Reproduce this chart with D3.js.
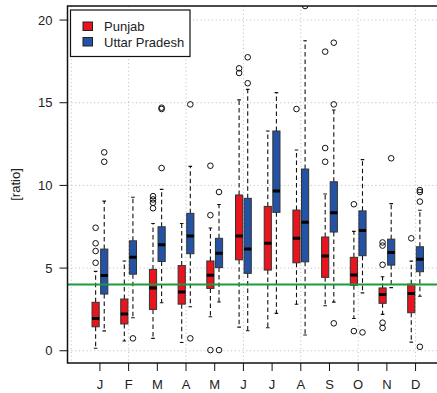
<!DOCTYPE html>
<html>
<head>
<meta charset="utf-8">
<script src="https://cdn.jsdelivr.net/npm/d3@7"></script>
<style>
  body { margin: 0; background: #fff; }
  text { font-family: "Liberation Sans", Arial, sans-serif; font-size: 13px; fill: #222; }
</style>
</head>
<body>
<script>
var width = 437,
    height = 393;

// month labels (tick labels on x)
var months = ["J", "F", "M", "A", "M", "J", "J", "A", "S", "O", "N", "D"];
var yTicks = [0, 5, 10, 15, 20];
var series = ["Punjab", "Uttar Pradesh"];
var threshold = 4;

// [lower whisker, q1, median, q3, upper whisker]
var punjab = [
  [0.15, 1.45, 1.95, 2.93, 4.8],
  [0.59, 1.62, 2.22, 3.13, 5.43],
  [0.75, 2.5, 3.8, 4.92, 7.7],
  [0.5, 2.82, 3.56, 5.15, 7.7],
  [2.06, 3.77, 4.56, 5.43, 7.42],
  [1.43, 5.5, 6.94, 9.42, 15.17],
  [1.39, 4.88, 6.5, 8.73, 13.29],
  [2.81, 5.32, 6.8, 8.51, 12.14],
  [2.72, 4.44, 5.73, 6.88, 9.48],
  [1.95, 3.96, 4.58, 5.65, 7.22],
  [2.2, 2.87, 3.4, 3.8, 4.48],
  [0.52, 2.3, 3.47, 4.03, 5.42]
];
var punjabOut = [
  [7.44, 6.5, 6.03, 5.32],
  [],
  [9.35, 9.15, 8.95, 8.62],
  [],
  [11.19, 8.2, 0.04],
  [17.08, 16.8],
  [],
  [14.62],
  [18.09, 12.26, 11.43],
  [8.86, 1.19],
  [6.55, 6.36, 5.2, 1.7, 1.38],
  [6.8]
];

var uttar = [
  [1.2, 3.43, 4.55, 6.15, 9.05],
  [2.0, 4.63, 5.66, 6.65, 9.28],
  [2.9, 5.4, 6.41, 7.5, 9.76],
  [2.66, 5.87, 6.94, 8.31, 11.15],
  [2.95, 5.03, 5.89, 6.8, 8.85],
  [1.21, 4.68, 6.15, 9.22, 15.81],
  [2.26, 8.37, 9.66, 13.29, 15.61],
  [0.95, 5.38, 7.77, 10.99, 18.75],
  [2.94, 7.18, 8.35, 10.22, 14.56],
  [3.5, 5.75, 7.28, 8.46, 11.56],
  [3.82, 5.18, 5.94, 6.75, 8.9],
  [3.3, 4.78, 5.53, 6.29, 8.5]
];
var uttarOut = [
  [12.0, 11.43],
  [0.75],
  [14.7, 14.62, 11.05],
  [14.9, 0.75],
  [9.6, 0.04],
  [17.75, 16.18],
  [],
  [20.85],
  [18.63, 14.9, 1.66],
  [1.11],
  [11.64],
  [9.72, 9.6, 9.02, 0.24]
];

var colors = ["#e8151f", "#2453a5"];
var offsets = [-0.15, 0.15];
var boxW = 0.25;

var pLeft = 67.5, pRight = 448, pTop = 6, pBottom = 363;

var x = d3.scaleLinear().domain([-0.13, 13.13]).range([pLeft, pRight]);
var y = d3.scaleLinear().domain([-0.74, 20.85]).range([pBottom, pTop]);

var svg = d3.select("body").append("svg")
    .attr("width", width)
    .attr("height", height);

svg.append("clipPath").attr("id", "plotclip")
  .append("rect")
    .attr("x", pLeft).attr("y", pTop)
    .attr("width", pRight - pLeft).attr("height", pBottom - pTop);

var plot = svg.append("g").attr("clip-path", "url(#plotclip)");

// grid
plot.selectAll("line.vgrid")
    .data([0, 2, 4, 6, 8, 10, 12])
  .enter().append("line")
    .attr("x1", function(d) { return x(d); })
    .attr("x2", function(d) { return x(d); })
    .attr("y1", pTop).attr("y2", pBottom)
    .style("stroke", "#c4c4c4")
    .style("stroke-dasharray", "1.2,2.6");

plot.selectAll("line.hgrid")
    .data(yTicks)
  .enter().append("line")
    .attr("x1", pLeft).attr("x2", pRight)
    .attr("y1", function(d) { return y(d); })
    .attr("y2", function(d) { return y(d); })
    .style("stroke", "#c4c4c4")
    .style("stroke-dasharray", "1.2,2.6");

function drawSeries(data, out, k) {
  var g = plot.append("g");
  var cx = function(i) { return x(i + 1 + offsets[k]); };
  var hw = (x(boxW) - x(0)) / 2;

  var b = g.selectAll("g.box")
      .data(data)
    .enter().append("g");

  // whiskers (dashed)
  b.append("line")
      .attr("x1", function(d, i) { return cx(i); })
      .attr("x2", function(d, i) { return cx(i); })
      .attr("y1", function(d) { return y(d[3]); })
      .attr("y2", function(d) { return y(d[4]); })
      .style("stroke", "#111").style("stroke-width", 1.1)
      .style("stroke-dasharray", "4.5,3");
  b.append("line")
      .attr("x1", function(d, i) { return cx(i); })
      .attr("x2", function(d, i) { return cx(i); })
      .attr("y1", function(d) { return y(d[1]); })
      .attr("y2", function(d) { return y(d[0]); })
      .style("stroke", "#111").style("stroke-width", 1.1)
      .style("stroke-dasharray", "4.5,3");

  // staples
  [0, 4].forEach(function(j) {
    b.append("line")
        .attr("x1", function(d, i) { return cx(i) - hw / 2; })
        .attr("x2", function(d, i) { return cx(i) + hw / 2; })
        .attr("y1", function(d) { return y(d[j]); })
        .attr("y2", function(d) { return y(d[j]); })
        .style("stroke", "#111").style("stroke-width", 1.1);
  });

  b.append("rect")
      .attr("x", function(d, i) { return cx(i) - hw; })
      .attr("width", hw * 2)
      .attr("y", function(d) { return y(d[3]); })
      .attr("height", function(d) { return y(d[1]) - y(d[3]); })
      .style("fill", colors[k])
      .style("stroke", "#333")
      .style("stroke-width", 1);

  b.append("line")
      .attr("x1", function(d, i) { return cx(i) - hw; })
      .attr("x2", function(d, i) { return cx(i) + hw; })
      .attr("y1", function(d) { return y(d[2]); })
      .attr("y2", function(d) { return y(d[2]); })
      .style("stroke", "#000").style("stroke-width", 3);

  // outliers
  out.forEach(function(pts, i) {
    g.selectAll(null)
        .data(pts)
      .enter().append("circle")
        .attr("cx", cx(i))
        .attr("cy", function(d) { return y(d); })
        .attr("r", 2.8)
        .style("fill", "none")
        .style("stroke", "#111")
        .style("stroke-width", 1);
  });
}

drawSeries(punjab, punjabOut, 0);
drawSeries(uttar, uttarOut, 1);

// reference line
plot.append("line")
    .attr("x1", pLeft).attr("x2", pRight)
    .attr("y1", y(threshold)).attr("y2", y(threshold))
    .style("stroke", "#1c9a3c")
    .style("stroke-width", 2);

// frame
svg.append("rect")
    .attr("x", pLeft).attr("y", pTop)
    .attr("width", pRight - pLeft).attr("height", pBottom - pTop)
    .style("fill", "none")
    .style("stroke", "#111")
    .style("stroke-width", 1.5);

// y axis
var yAxis = svg.append("g");
yAxis.selectAll("line")
    .data(yTicks)
  .enter().append("line")
    .attr("x1", pLeft - 8).attr("x2", pLeft)
    .attr("y1", function(d) { return y(d); })
    .attr("y2", function(d) { return y(d); })
    .style("stroke", "#111");
yAxis.selectAll("text")
    .data(yTicks)
  .enter().append("text")
    .attr("x", pLeft - 15)
    .attr("y", function(d) { return y(d); })
    .attr("dy", ".35em")
    .attr("text-anchor", "end")
    .text(function(d) { return d; });

svg.append("text")
    .attr("transform", "translate(20," + ((pTop + pBottom) / 2) + ") rotate(-90)")
    .attr("text-anchor", "middle")
    .text("[ratio]");

// x axis
var xAxis = svg.append("g");
xAxis.selectAll("line")
    .data(months)
  .enter().append("line")
    .attr("x1", function(d, i) { return x(i + 1); })
    .attr("x2", function(d, i) { return x(i + 1); })
    .attr("y1", pBottom).attr("y2", pBottom + 8)
    .style("stroke", "#111");
xAxis.selectAll("text")
    .data(months)
  .enter().append("text")
    .attr("x", function(d, i) { return x(i + 1); })
    .attr("y", 389)
    .attr("text-anchor", "middle")
    .text(function(d) { return d; });

// legend
var legend = svg.append("g");
legend.append("rect")
    .attr("x", 70.5).attr("y", 10)
    .attr("width", 119.5).attr("height", 46.5)
    .style("fill", "#fff")
    .style("stroke", "#111")
    .style("stroke-width", 1.2);
series.forEach(function(s, k) {
  legend.append("rect")
      .attr("x", 83).attr("y", 22 + k * 15.5)
      .attr("width", 9.5).attr("height", 8.5)
      .style("fill", colors[k])
      .style("stroke", "#222");
  legend.append("text")
      .attr("x", 104).attr("y", 31 + k * 15.5)
      .text(s);
});
</script>
</body>
</html>
